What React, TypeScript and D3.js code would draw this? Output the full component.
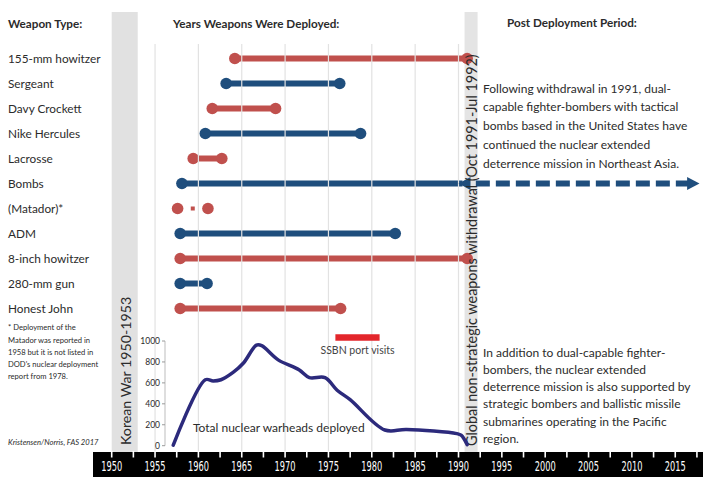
import React from "react";
import * as d3 from "d3";

// ---------- DATA ----------
const weapons = [
  "155-mm howitzer",
  "Sergeant",
  "Davy Crockett",
  "Nike Hercules",
  "Lacrosse",
  "Bombs",
  "(Matador)*",
  "ADM",
  "8-inch howitzer",
  "280-mm gun",
  "Honest John",
];
const deployStart = [1964.2, 1963.2, 1961.6, 1960.8, 1959.4, 1958.1, 1957.6, 1957.9, 1957.9, 1957.9, 1957.9];
const deployEnd = [1991.0, 1976.3, 1968.9, 1978.7, 1962.7, 1990.0, 1961.1, 1982.7, 1991.0, 1961.0, 1976.4];
const weaponKind = ["army", "missile", "army", "missile", "army", "missile", "army", "missile", "army", "missile", "army"];

const warheadYears = [1957.1, 1960.8, 1961.7, 1962.6, 1964.0, 1965.2, 1966.7, 1967.3, 1969.2, 1971.6, 1972.8, 1974.6, 1976.0, 1977.5, 1981.5, 1984.0, 1989.8, 1990.3, 1991.0];
const warheadCounts = [5, 630, 618, 630, 700, 790, 960, 955, 820, 725, 650, 650, 530, 440, 150, 155, 115, 100, 10];

const countTicks = [0, 200, 400, 600, 800, 1000];
const yearLabels = [1950, 1955, 1960, 1965, 1970, 1975, 1980, 1985, 1990, 1995, 2000, 2005, 2010, 2015];
const yearTicks = d3.range(1950, 2018.5, 2.5);
const gridYears = [1955, 1960, 1965, 1970, 1975, 1980, 1985, 1990];

const koreanWar = [1950, 1953];
const withdrawal = [1990.7, 1992.2];
const ssbnVisits = [1975.8, 1980.9];
const bombsFuture = [1992.0, 2016.6, 2017.8];

const para1 = [
  "Following withdrawal in 1991, dual-",
  "capable fighter-bombers with tactical",
  "bombs based in the United States have",
  "continued the nuclear extended",
  "deterrence mission in Northeast Asia.",
];
const para2 = [
  "In addition to dual-capable fighter-",
  "bombers, the nuclear extended",
  "deterrence mission is also supported by",
  "strategic bombers and ballistic missile",
  "submarines operating in the Pacific",
  "region.",
];
const footnote = [
  "* Deployment of the",
  "Matador was reported in",
  "1958 but it is not listed in",
  "DOD's nuclear deployment",
  "report from 1978.",
];

// ---------- STYLE ----------
const W = 703;
const H = 477;
const RED = "#c0504d";
const BLUE = "#1f4e7d";
const NAVY = "#2c2a7c";
const TXT = "#2b2b2b";
const FONT = "Lato, 'Open Sans', sans-serif";

export default function App() {
  const x = d3.scaleLinear().domain([1950, 1980]).range([111.7, 371.8]);
  const y = d3.scalePoint<string>().domain(weapons).range([58.5, 308.5]);
  const yc = d3.scaleLinear().domain([0, 1000]).range([445.7, 341]);
  const color = (k: string) => (k === "army" ? RED : BLUE);

  const line = d3
    .line<number>()
    .x((_, i) => x(warheadYears[i]))
    .y((d) => yc(d))
    .curve(d3.curveCatmullRom.alpha(0.5));

  const bombsIdx = weapons.indexOf("Bombs");
  const matIdx = weapons.indexOf("(Matador)*");
  const by = y("Bombs")!;

  return (
    <svg
      width={W}
      height={H}
      style={{ position: "absolute", left: 0, top: 0, background: "#fff" }}
      fontFamily={FONT}
    >
      <rect x={0} y={0} width={W} height={H} fill="#fff" />

      {/* Korean war band */}
      <rect x={x(koreanWar[0])} y={12} width={x(koreanWar[1]) - x(koreanWar[0])} height={443} fill="#e1e1e1" />
      <text
        transform={`translate(${(x(koreanWar[0]) + x(koreanWar[1])) / 2 + 1},445) rotate(-90)`}
        fontSize={14.2}
        fill={TXT}
        dominantBaseline="central"
      >
        Korean War 1950-1953
      </text>

      {/* withdrawal band */}
      <rect x={x(withdrawal[0])} y={12} width={x(withdrawal[1]) - x(withdrawal[0])} height={443} fill="#e4e4e4" />

      {/* headers */}
      <text x={8} y={23} fontSize={11.7} fontWeight="bold" fill={TXT} dominantBaseline="central">Weapon Type:</text>
      <text x={173} y={23} fontSize={11.7} fontWeight="bold" fill={TXT} dominantBaseline="central">Years Weapons Were Deployed:</text>
      <text x={507} y={22} fontSize={11.7} fontWeight="bold" fill={TXT} dominantBaseline="central">Post Deployment Period:</text>

      {/* weapon labels */}
      {weapons.map((w) => (
        <text key={w} x={8} y={y(w)! - 0.5} fontSize={11.8} fill={TXT} dominantBaseline="central">
          {w}
        </text>
      ))}

      {/* footnote */}
      {footnote.map((t, i) => (
        <text key={t} x={8} y={327.3 + i * 12.2} fontSize={7.6} fill={TXT} dominantBaseline="central">
          {t}
        </text>
      ))}
      <text x={8} y={442} fontSize={7.6} fontStyle="italic" fill={TXT} dominantBaseline="central">
        Kristensen/Norris, FAS 2017
      </text>

      {/* deployment bars */}
      {weapons.map((w, i) => {
        const c = color(weaponKind[i]);
        const yy = y(w)!;
        if (i === matIdx) {
          return (
            <g key={w}>
              <circle cx={x(deployStart[i])} cy={yy} r={5.8} fill={c} />
              <rect x={(x(deployStart[i]) + x(deployEnd[i])) / 2 - 2} y={yy - 2} width={4} height={4} fill={c} />
              <circle cx={x(deployEnd[i])} cy={yy} r={5.8} fill={c} />
            </g>
          );
        }
        if (i === bombsIdx) {
          return (
            <g key={w}>
              <line x1={x(deployStart[i])} x2={x(deployEnd[i]) + 4} y1={yy} y2={yy} stroke={c} strokeWidth={6} />
              <circle cx={x(deployStart[i])} cy={yy} r={5.8} fill={c} />
            </g>
          );
        }
        return (
          <g key={w}>
            <line x1={x(deployStart[i])} x2={x(deployEnd[i])} y1={yy} y2={yy} stroke={c} strokeWidth={6} />
            <circle cx={x(deployStart[i])} cy={yy} r={5.8} fill={c} />
            <circle cx={x(deployEnd[i])} cy={yy} r={5.8} fill={c} />
          </g>
        );
      })}

      {/* gridlines */}
      {gridYears.map((g) => (
        <line key={g} x1={x(g)} x2={x(g)} y1={44} y2={452} stroke="#e2e2e2" strokeWidth={1.2} />
      ))}

      {/* bombs arrow + continuation */}
      <path
        d={`M${x(deployEnd[bombsIdx])},${by} L${x(deployEnd[bombsIdx]) + 12},${by - 6.5} L${x(deployEnd[bombsIdx]) + 12},${by + 6.5} Z`}
        fill={BLUE}
      />
      <line x1={x(bombsFuture[0])} x2={x(bombsFuture[1])} y1={by} y2={by} stroke={BLUE} strokeWidth={6} strokeDasharray="14 6" />
      <path
        d={`M${x(bombsFuture[1]) - 2},${by - 6.5} L${x(bombsFuture[2])},${by} L${x(bombsFuture[1]) - 2},${by + 6.5} Z`}
        fill={BLUE}
      />

      {/* withdrawal text */}
      <text
        transform={`translate(${(x(withdrawal[0]) + x(withdrawal[1])) / 2 + 0.5},446) rotate(-90)`}
        fontSize={14.4}
        fill={TXT}
        dominantBaseline="central"
      >
        Global non-strategic weapons withdrawal (Oct 1991-Jul 1992)
      </text>

      {/* paragraphs */}
      {para1.map((t, i) => (
        <text key={t} x={483} y={88 + i * 18.8} fontSize={12} fill={TXT} dominantBaseline="central">
          {t}
        </text>
      ))}
      {para2.map((t, i) => (
        <text key={t} x={483} y={352 + i * 17.3} fontSize={12} fill={TXT} dominantBaseline="central">
          {t}
        </text>
      ))}

      {/* warhead count axis */}
      <line x1={165} x2={165} y1={yc(1000)} y2={yc(0)} stroke="#bdbdbd" strokeWidth={1} />
      {countTicks.map((t) => (
        <g key={t}>
          <line x1={162} x2={165} y1={yc(t)} y2={yc(t)} stroke="#9a9a9a" />
          <text x={160} y={yc(t)} fontSize={8.5} textAnchor="end" fill={TXT} dominantBaseline="central">
            {t}
          </text>
        </g>
      ))}
      <path d={line(warheadCounts) || ""} fill="none" stroke={NAVY} strokeWidth={3.5} strokeLinejoin="round" strokeLinecap="round" />
      <text x={193} y={427} fontSize={12} fill={TXT} dominantBaseline="central">
        Total nuclear warheads deployed
      </text>

      {/* SSBN */}
      <line x1={x(ssbnVisits[0])} x2={x(ssbnVisits[1])} y1={337.5} y2={337.5} stroke="#e3262b" strokeWidth={6.5} />
      <text x={(x(ssbnVisits[0]) + x(ssbnVisits[1])) / 2} y={349.5} fontSize={10.5} fill="#444" textAnchor="middle" dominantBaseline="central">
        SSBN port visits
      </text>

      {/* bottom time axis */}
      <rect x={93} y={452} width={W - 93} height={H - 452} fill="#000" />
      {yearTicks.map((t) => (
        <line key={t} x1={x(t)} x2={x(t)} y1={451} y2={457.5} stroke="#fff" strokeWidth={1.6} />
      ))}
      {yearLabels.map((t) => (
        <text
          key={t}
          x={x(t)}
          y={466}
          fontSize={14}
          fill="#fff"
          textAnchor="middle"
          dominantBaseline="central"
          textLength={21}
          lengthAdjust="spacingAndGlyphs"
          fontFamily="'Liberation Sans Narrow', 'DejaVu Sans Condensed', 'Liberation Sans', sans-serif"
        >
          {t}
        </text>
      ))}
    </svg>
  );
}
